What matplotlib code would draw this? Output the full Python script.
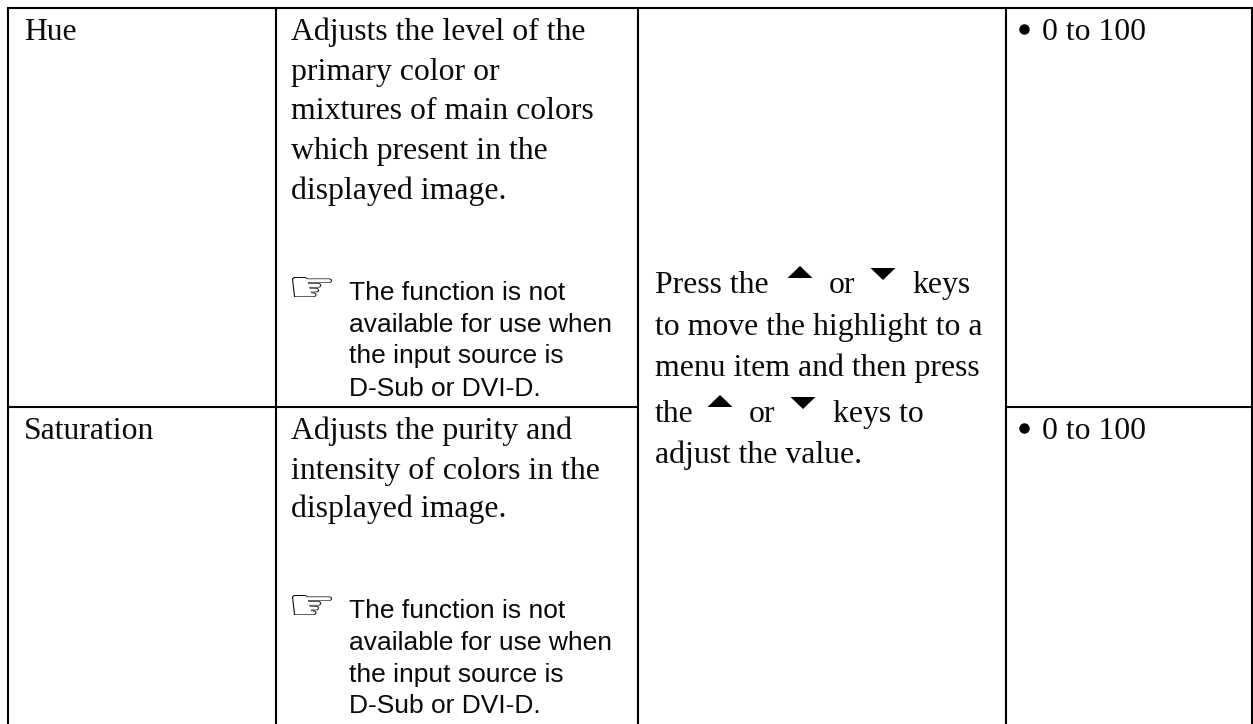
import matplotlib
matplotlib.use("Agg")
import matplotlib.pyplot as plt
from matplotlib.font_manager import FontProperties
from matplotlib.patches import PathPatch
from matplotlib.textpath import TextPath
from matplotlib.transforms import Affine2D

W, H = 1253, 724

# table grid, in pixels of the page
col_edges = [7.5, 276, 638, 1006, 1252]
top_y = 7.5
mid_y = 407

hue_label = "Hue"
sat_label = "Saturation"
hue_desc = ["Adjusts the level of the", "primary color or", "mixtures of main colors",
            "which present in the", "displayed image."]
sat_desc = ["Adjusts the purity and", "intensity of colors in the", "displayed image."]
note = ["The function is not", "available for use when", "the input source is", "D-Sub or DVI-D."]
range_text = "0 to 100"

hue_base = [40, 80, 119, 159, 199]
sat_base = [439, 479, 517]
note_base_hue = [300, 332, 363, 396]
note_base_sat = [618, 650, 682, 713]

serif = "Liberation Serif"
sans = "Liberation Sans"
fs_serif = 22.9
fs_sans = 19
ink = "#0a0a0a"

fig = plt.figure(figsize=(W / 100, H / 100), dpi=100)
ax = fig.add_axes([0, 0, 1, 1])
ax.set_xlim(0, W)
ax.set_ylim(H, 0)
ax.axis("off")


def serif_text(x, y, s):
    ax.text(x, y, s, family=serif, fontsize=fs_serif, color=ink, va="baseline")


def hand_icon(x0, x1, y0, y1):
    # the pointing hand is flatter than the font's glyph, so squash its outline
    path = TextPath((0, 0), "\u261e", size=1, prop=FontProperties(family="DejaVu Sans"))
    box = path.get_extents()
    tr = Affine2D().translate(-box.x0, -box.y1).scale((x1 - x0) / box.width, -(y1 - y0) / box.height).translate(x0, y0)
    ax.add_patch(PathPatch(path, transform=tr + ax.transData, fc=ink, lw=0))


def note_block(bases):
    hand_icon(292, 332, bases[0] - 23, bases[0] - 3)
    for y, line in zip(bases, note):
        ax.text(349, y, line, family=sans, fontsize=fs_sans, color=ink, va="baseline")


def arrow_key(cx, cy, up=True):
    # flat wide triangle used for the key symbols
    tip = cy - 6 if up else cy + 6
    foot = cy + 6 if up else cy - 6
    ax.fill([cx - 12.5, cx + 12.5, cx], [foot, foot, tip], color="black", lw=0)


# grid, the table runs off the bottom of the page
lw = 1.5
for x in col_edges:
    ax.plot([x, x], [top_y, H], color="black", lw=lw, solid_capstyle="butt")
ax.plot([col_edges[0], col_edges[4]], [top_y, top_y], color="black", lw=lw, solid_capstyle="projecting")
# middle rule stops at the merged cell
ax.plot([col_edges[0], col_edges[2]], [mid_y, mid_y], color="black", lw=lw, solid_capstyle="butt")
ax.plot([col_edges[3], col_edges[4]], [mid_y, mid_y], color="black", lw=lw, solid_capstyle="butt")

# first row
serif_text(24, hue_base[0], hue_label)
for y, line in zip(hue_base, hue_desc):
    serif_text(291, y, line)
note_block(note_base_hue)

# second row
serif_text(24, sat_base[0], sat_label)
for y, line in zip(sat_base, sat_desc):
    serif_text(291, y, line)
note_block(note_base_sat)

# merged cell
serif_text(655, 293, "Press the")
arrow_key(800, 272, up=True)
serif_text(829, 293, "or")
arrow_key(883, 274, up=False)
serif_text(912, 293, "keys")
serif_text(655, 335, "to move the highlight to a")
serif_text(655, 376, "menu item and then press")
serif_text(655, 422, "the")
arrow_key(720, 401, up=True)
serif_text(749, 422, "or")
arrow_key(803, 403, up=False)
serif_text(833, 422, "keys to")
serif_text(655, 463, "adjust the value.")

# last column
for y in [40, 439]:
    ax.plot(1024, y - 11, marker="o", ms=6.5, color="black", ls="none")
    serif_text(1042, y, range_text)

fig.savefig("out.png", dpi=100)
